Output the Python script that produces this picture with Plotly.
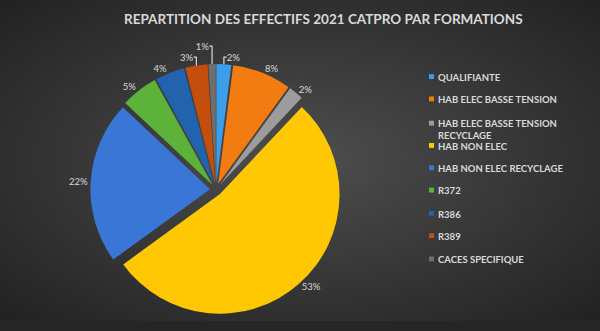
import base64
import plotly.graph_objects as go

labels = ["QUALIFIANTE", "HAB ELEC BASSE TENSION", "HAB ELEC BASSE TENSION RECYCLAGE",
          "HAB NON ELEC", "HAB NON ELEC RECYCLAGE", "R372", "R386", "R389", "CACES SPECIFIQUE"]
legend_text = ["QUALIFIANTE", "HAB ELEC BASSE TENSION", "HAB ELEC BASSE TENSION<br>RECYCLAGE",
               "HAB NON ELEC", "HAB NON ELEC RECYCLAGE", "R372", "R386", "R389", "CACES SPECIFIQUE"]
values = [2, 8, 2, 53, 22, 5, 4, 3, 1]
colors = ["#3b9ee8", "#f27c12", "#9c9c9c", "#ffc803", "#3a76d6", "#5db23a", "#2163ad", "#c44f0c", "#6f6f6f"]

W, H = 600, 331

svg = f'''<svg xmlns="http://www.w3.org/2000/svg" width="{W}" height="{H}" viewBox="0 0 {W} {H}" preserveAspectRatio="none">
<defs><radialGradient id="g" cx="50%" cy="50%" r="70%">
<stop offset="0%" stop-color="#4e4e4e"/><stop offset="100%" stop-color="#222222"/>
</radialGradient></defs><rect width="{W}" height="{H}" fill="url(#g)"/></svg>'''
bg = "data:image/svg+xml;base64," + base64.b64encode(svg.encode()).decode()

fig = go.Figure(go.Pie(
    labels=labels, values=values, sort=False, direction="clockwise", rotation=0,
    marker=dict(colors=colors, line=dict(width=0)),
    pull=[0.05] * len(values),
    texttemplate="%{percent:.0%}", textposition="outside",
    textfont=dict(family="Lato", size=9.5, color="#d9d9d9"),
    domain=dict(x=[85 / W, 347 / W], y=[1 - 325 / H, 1 - 66 / H]),
    showlegend=False, hoverinfo="label+percent",
))

shapes = []
annotations = []
ys = [79, 102, 127, 150, 173, 196, 220, 243, 267]
for i, lab in enumerate(legend_text):
    yc = ys[i]
    shapes.append(dict(type="rect", xref="paper", yref="paper",
                       x0=429 / W, x1=434 / W, y0=1 - (yc + 2.5) / H, y1=1 - (yc - 2.5) / H,
                       fillcolor=colors[i], line=dict(width=0)))
    annotations.append(dict(xref="paper", yref="paper", x=436 / W, y=1 - (yc - 7) / H,
                            xanchor="left", yanchor="top", text="<b>" + lab + "</b>",
                            showarrow=False, align="left",
                            font=dict(family="Lato", size=9.5, color="#d9d9d9")))

annotations.append(dict(xref="paper", yref="paper", x=323 / W, y=1 - 20 / H, xanchor="center",
                        yanchor="middle", showarrow=False,
                        text="<b>REPARTITION DES EFFECTIFS 2021 CATPRO PAR FORMATIONS</b>",
                        font=dict(family="Lato", size=13.5, color="#d9d9d9")))

fig.update_layout(
    width=W, height=H, margin=dict(l=0, r=0, t=0, b=0),
    paper_bgcolor="#262626", plot_bgcolor="#262626",
    images=[dict(source=bg, xref="paper", yref="paper", x=0, y=1, sizex=1, sizey=1,
                 xanchor="left", yanchor="top", sizing="stretch", layer="below")],
    shapes=shapes, annotations=annotations,
)

fig.write_html("out.html")
